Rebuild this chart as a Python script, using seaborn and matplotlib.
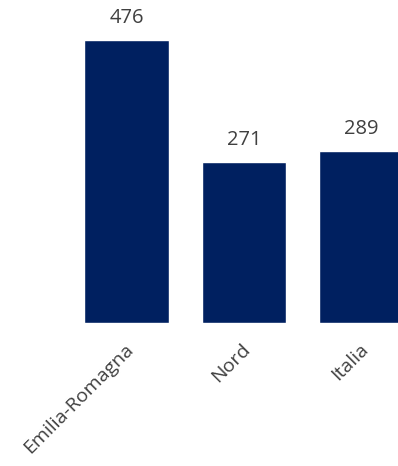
import matplotlib
matplotlib.use("Agg")
import matplotlib.pyplot as plt
import matplotlib.transforms as mtrans
import seaborn as sns
import pandas as pd

categories = ["Emilia-Romagna", "Nord", "Italia"]
values = [476, 271, 289]

sns.set_theme(style="white")
plt.rcParams['font.family'] = ['Open Sans', 'DejaVu Sans']

df = pd.DataFrame({"cat": categories, "val": values})

W, H = 398, 466
fig = plt.figure(figsize=(W / 100, H / 100), dpi=100)
ax = fig.add_axes([0, 143 / H, 1, 323 / H])

sns.barplot(data=df, x="cat", y="val", color="#002060", width=0.723,
            saturation=1, ax=ax)

ax.set_xlim(-126.5 / 117.5, (398 - 126.5) / 117.5)
ax.set_ylim(0, 323 / 0.594)

for i, v in enumerate(values):
    ax.text(i, v + 22 / 0.594, str(v), ha="center", va="center",
            fontsize=14.5, color="#404040")

ax.set_xlabel("")
ax.set_ylabel("")
ax.set_yticks([])
ax.tick_params(axis="x", length=0, pad=17, labelsize=14, labelcolor="#404040")
offset = mtrans.ScaledTranslation(4 / 100, 0, fig.dpi_scale_trans)
for lab in ax.get_xticklabels():
    lab.set_rotation(45)
    lab.set_ha("right")
    lab.set_va("center")
    lab.set_rotation_mode("anchor")
    lab.set_transform(lab.get_transform() + offset)
for s in ax.spines.values():
    s.set_visible(False)

fig.savefig("out.png", dpi=100)
